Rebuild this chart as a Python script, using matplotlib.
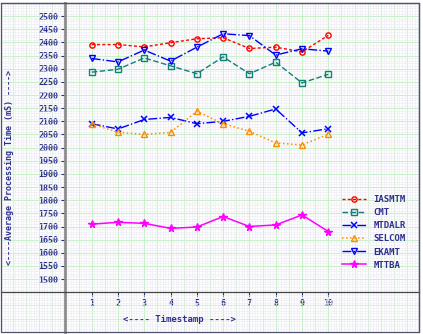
#! /usr/bin/python3
# -*- coding: utf-8 -*-

"""Average processing time per timestamp"""

import numpy as np
import matplotlib
matplotlib.use('Agg')
import matplotlib.pyplot as plt
from matplotlib.ticker import MultipleLocator
from matplotlib.patches import Rectangle

timestamps = [1, 2, 3, 4, 5, 6, 7, 8, 9, 10]

iasmtm = [2392, 2392, 2383, 2399, 2414, 2418, 2377, 2382, 2364, 2427]
cmt = [2287, 2298, 2341, 2311, 2281, 2345, 2281, 2325, 2246, 2279]
mtdalr = [2091, 2071, 2107, 2115, 2091, 2100, 2119, 2147, 2056, 2072]
selcom = [2091, 2058, 2050, 2058, 2138, 2091, 2062, 2018, 2010, 2051]
ekamt = [2339, 2326, 2371, 2329, 2382, 2433, 2426, 2352, 2376, 2367]
mttba = [1709, 1716, 1712, 1693, 1698, 1738, 1700, 1706, 1744, 1681]

y_ticks = list(range(1500, 2501, 50))

TXT = '#2e2e8e'
FONT = 'DejaVu Sans Mono'


def main():
    fig = plt.figure(figsize=(4.23, 3.34), dpi=100)
    ax = fig.add_axes([1 / 423, 2.3 / 334, 418 / 423, 328.7 / 334])

    ax.plot(timestamps, iasmtm, color='red', ls='--', dashes=(2.2, 1.6),
            marker='o', mfc='none', ms=3.8, mew=1.0, lw=1.0, label='IASMTM')
    ax.plot(timestamps, cmt, color='#11807a', ls='--', dashes=(4, 1.8),
            marker='s', mfc='none', ms=3.8, mew=1.0, lw=1.0, label='CMT')
    ax.plot(timestamps, mtdalr, color='blue', ls='-.',
            marker='x', ms=4.2, mew=1.1, lw=1.0, label='MTDALR')
    ax.plot(timestamps, selcom, color='darkorange', ls=':',
            marker='^', mfc='none', ms=3.8, mew=1.0, lw=1.1, label='SELCOM')
    ax.plot(timestamps, ekamt, color='blue', ls='-.',
            marker='v', mfc='none', ms=3.8, mew=1.0, lw=1.0, label='EKAMT')
    ax.plot(timestamps, mttba, color='magenta', ls='-',
            marker='*', ms=5.5, lw=1.1, label='MTTBA')

    ax.set_xlim(-2.45, 13.45)
    ax.set_ylim(1300, 2550)

    # cross-shaped axes
    ax.spines['left'].set_position(('data', 0))
    ax.spines['bottom'].set_position(('data', 1450))
    ax.spines['left'].set_color('#8c8c8c')
    ax.spines['left'].set_linewidth(2)
    ax.spines['bottom'].set_color('#444444')
    ax.spines['bottom'].set_linewidth(0.9)
    for s in ('top', 'right'):
        ax.spines[s].set_color('#505070')
        ax.spines[s].set_linewidth(0.9)
    ax.add_patch(Rectangle((0, 0), 1, 1, transform=ax.transAxes, fill=False,
                           ec='#505070', lw=0.9, clip_on=False, zorder=5))

    ax.set_xticks(timestamps)
    ax.set_yticks(y_ticks)
    ax.xaxis.set_minor_locator(MultipleLocator(0.1))
    ax.yaxis.set_minor_locator(MultipleLocator(10))
    ax.tick_params(which='major', length=3, width=0.8, color=TXT,
                   labelsize=6, labelcolor=TXT, pad=2)
    ax.tick_params(which='minor', length=0)
    for lbl in ax.get_xticklabels() + ax.get_yticklabels():
        lbl.set_family(FONT)
        lbl.set_weight('bold')

    # green squared grid with fine minor lines
    ax.set_axisbelow(True)
    for x in np.arange(-2.5, 13.6, 0.5):
        ax.axvline(x, color='#c4f0c4', lw=0.8, zorder=0)
    for y in range(1300, 2551, 50):
        ax.axhline(y, color='#c4f0c4', lw=0.8, zorder=0)
    ax.grid(which='minor', color='#ebebf2', lw=0.4)

    ax.text(0.0215, 0.5, '<----Average Processing Time (mS) ---->',
            transform=ax.transAxes, rotation=90, ha='center', va='center',
            fontsize=6, family=FONT, weight='bold', color=TXT)
    ax.text(0.428, 0.036, '<---- Timestamp ---->',
            transform=ax.transAxes, ha='center', va='center',
            fontsize=6.5, family=FONT, weight='bold', color=TXT)

    leg = ax.legend(loc='upper left', bbox_to_anchor=(0.816, 0.415),
                    frameon=False, handlelength=2.6, handletextpad=0.9,
                    labelspacing=0.45, borderpad=0, borderaxespad=0,
                    prop={'family': FONT, 'size': 6.5, 'weight': 'bold'})
    for t in leg.get_texts():
        t.set_color(TXT)

    fig.savefig('out.png', dpi=100)


if __name__ == '__main__':
    main()
